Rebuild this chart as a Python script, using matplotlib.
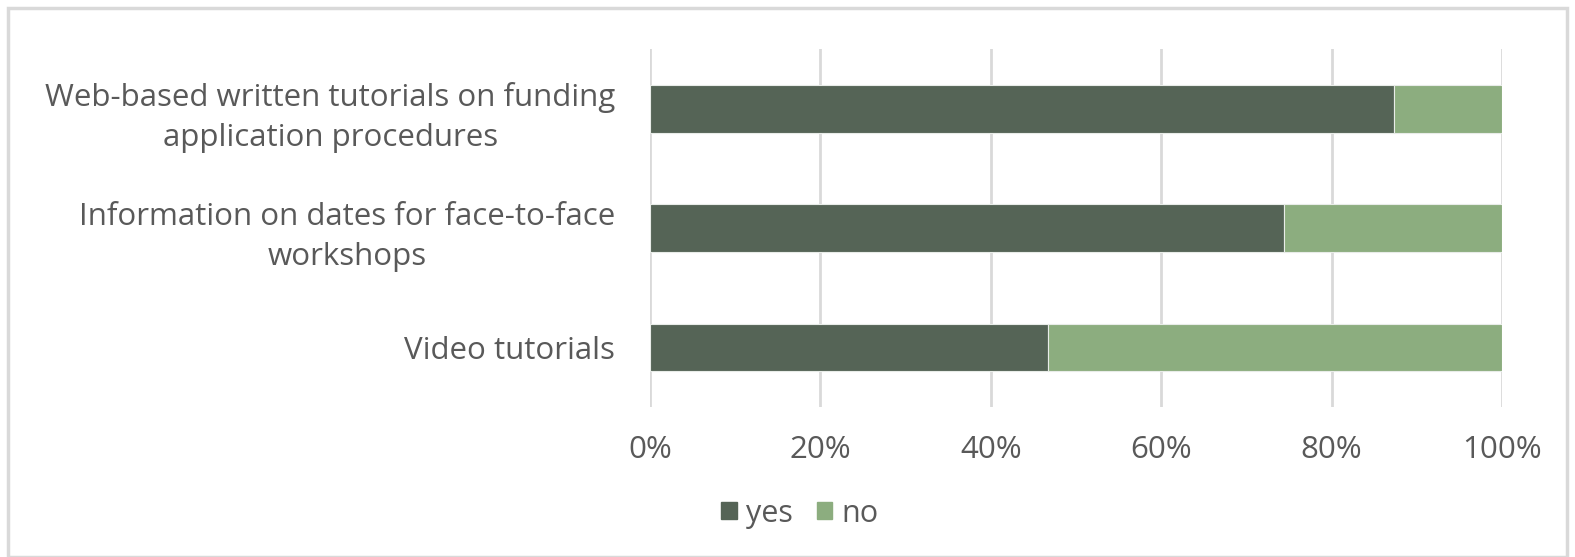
import matplotlib.pyplot as plt
import matplotlib.patches as mpatches

DARK = "#556456"
LIGHT = "#8cad7f"
GRID = "#d9d9d9"
TXT = "#595959"

categories = [
    "Web-based written tutorials on funding\napplication procedures",
    "Information on dates for face-to-face\nworkshops",
    "Video tutorials",
]
yes = [0.873, 0.744, 0.467]
no = [1 - v for v in yes]

plt.rcParams["font.family"] = ["Open Sans", "DejaVu Sans"]

fig = plt.figure(figsize=(15.75, 5.57), dpi=100)
ax = fig.add_axes([0.4127, 0.269, 0.541, 0.643])

pos = range(len(categories))
ax.barh(pos, yes, height=0.4, color=DARK, edgecolor="#e8ece8", linewidth=0.8,
        label="yes", zorder=3)
ax.barh(pos, no, left=yes, height=0.4, color=LIGHT, edgecolor="#e8ece8",
        linewidth=0.8, label="no", zorder=3)

ax.set_xlim(0, 1)
ax.set_ylim(-0.5, len(categories) - 0.5)
ax.invert_yaxis()
ax.set_xticks([0, 0.2, 0.4, 0.6, 0.8, 1.0])
ax.set_xticklabels(["0%", "20%", "40%", "60%", "80%", "100%"])
ax.set_yticks(list(pos))
ax.set_yticklabels(categories)
for t in ax.get_yticklabels():
    t.set_multialignment("center")
    t.set_linespacing(1.45)

ax.grid(axis="x", color=GRID, linewidth=2, zorder=0)
ax.tick_params(axis="both", length=0, labelsize=22.5, colors=TXT)
ax.tick_params(axis="x", pad=20)
ax.tick_params(axis="y", pad=25)
for s in ax.spines.values():
    s.set_visible(False)

handles = [mpatches.Patch(color=DARK, label="yes"),
           mpatches.Patch(color=LIGHT, label="no")]
fig.legend(handles=handles, loc="center", bbox_to_anchor=(0.508, 0.078),
           ncol=2, frameon=False, fontsize=22, labelcolor=TXT,
           handlelength=0.5, handleheight=0.5, handletextpad=0.3,
           columnspacing=0.8)

frame = mpatches.Rectangle((8 / 1575, 0.0), 1559 / 1575, 1 - 8 / 557,
                           transform=fig.transFigure, fill=False,
                           edgecolor=GRID, linewidth=2.5)
fig.patches.append(frame)

fig.savefig("out.png", dpi=100, facecolor="white")
